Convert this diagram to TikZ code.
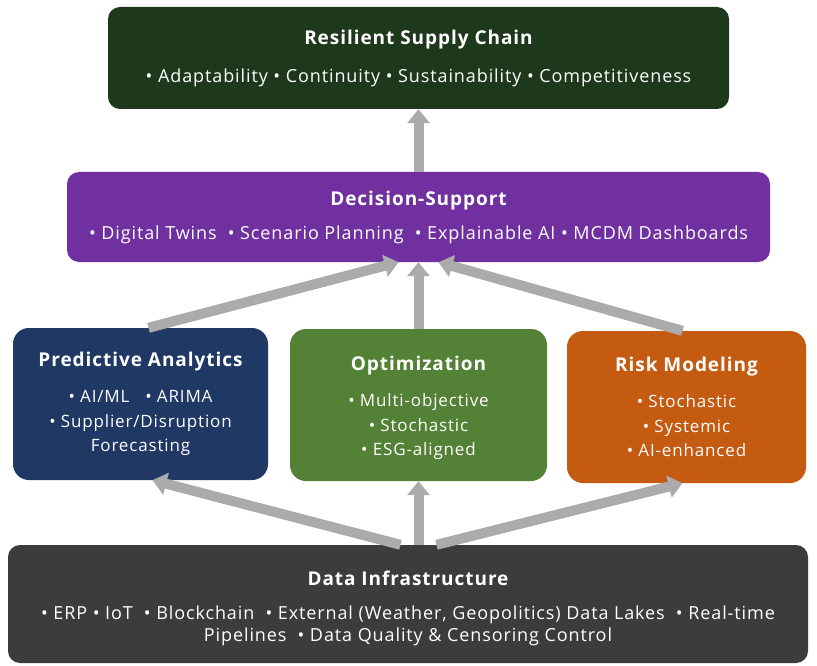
\documentclass[tikz,border=0pt]{standalone}
\usepackage{fontspec}
\setmainfont{Open Sans}[LetterSpace=5]
\usetikzlibrary{arrows.meta,calc}
\definecolor{resgreen}{HTML}{1E381C}
\definecolor{decpurple}{HTML}{7030A0}
\definecolor{prednavy}{HTML}{1F3864}
\definecolor{optgreen}{HTML}{538135}
\definecolor{riskorange}{HTML}{C55A11}
\definecolor{datagray}{HTML}{3C3C3C}
\definecolor{arrowgray}{HTML}{ABABAB}
\tikzset{
  box/.style={rounded corners=12pt, text=white, align=center, inner sep=0pt,
    font=\fontsize{18}{24}\selectfont},
  tier/.style={box, rounded corners=16pt, minimum height=152pt,
    font=\fontsize{17}{24.5}\selectfont},
  arrow/.style={draw=arrowgray, line width=10pt, -{Triangle[width=22pt,length=14pt]}},
}
\newcommand{\ttl}[1]{{\bfseries\fontsize{19}{24}\selectfont #1}}

\begin{document}
\begin{tikzpicture}[x=1pt,y=-1pt]
  \useasboundingbox (0,0) rectangle (817,666);
  \fill[white] (0,0) rectangle (817,666);
  % top layer
  \node[box, fill=resgreen, minimum width=621pt, minimum height=102pt] (rsc) at (418.5,58)
    {\ttl{Resilient Supply Chain}\\[14pt]
     • Adaptability • Continuity • Sustainability • Competitiveness};
  \node[box, fill=decpurple, minimum width=703pt, minimum height=90pt] (dsup) at (418.5,217)
    {\ttl{Decision-Support}\\[10pt]
     • Digital Twins \ • Scenario Planning \ • Explainable AI • MCDM Dashboards};
  % middle layer
  \node[tier, fill=prednavy, minimum width=255pt] (pred) at (140.5,404)
    {\ttl{Predictive Analytics}\\[12pt]
     • AI/ML \ \ • ARIMA\\
     • Supplier/Disruption\\
     Forecasting};
  \node[tier, fill=optgreen, minimum width=257pt] (opt) at (418.5,405)
    {\rule{0pt}{20pt}\ttl{Optimization}\\[12pt]
     • Multi-objective\\
     • Stochastic\\
     • ESG-aligned};
  \node[tier, fill=riskorange, minimum width=239pt] (risk) at (686.5,407)
    {\ttl{Risk Modeling}\\[12pt]
     • Stochastic\\
     • Systemic\\
     • AI-enhanced};
  % bottom layer
  \node[box, fill=datagray, minimum width=800pt, minimum height=118pt] (data) at (408,604)
    {\rule{0pt}{24pt}\ttl{Data Infrastructure}\\[10pt]
     • ERP • IoT \ • Blockchain \ • External (Weather, Geopolitics) Data Lakes \ • Real-time\\[-2pt]
     Pipelines \ • Data Quality \& Censoring Control};
  % arrows
  \draw[arrow] (dsup.north -| rsc.south) -- (rsc.south);
  \draw[arrow] (opt.north) -- (opt.north |- dsup.south);
  \draw[arrow] ([xshift=8pt]pred.north) -- ([xshift=-20pt]dsup.south);
  \draw[arrow] ([xshift=-4pt]risk.north) -- ([xshift=20pt]dsup.south);
  \draw[arrow] ($(opt.south |- data.north)+(-18,0)$) -- ([xshift=12pt]pred.south);
  \draw[arrow] (opt.south |- data.north) -- (opt.south);
  \draw[arrow] ($(opt.south |- data.north)+(18,0)$) -- ([xshift=-4pt]risk.south);
\end{tikzpicture}
\end{document}
